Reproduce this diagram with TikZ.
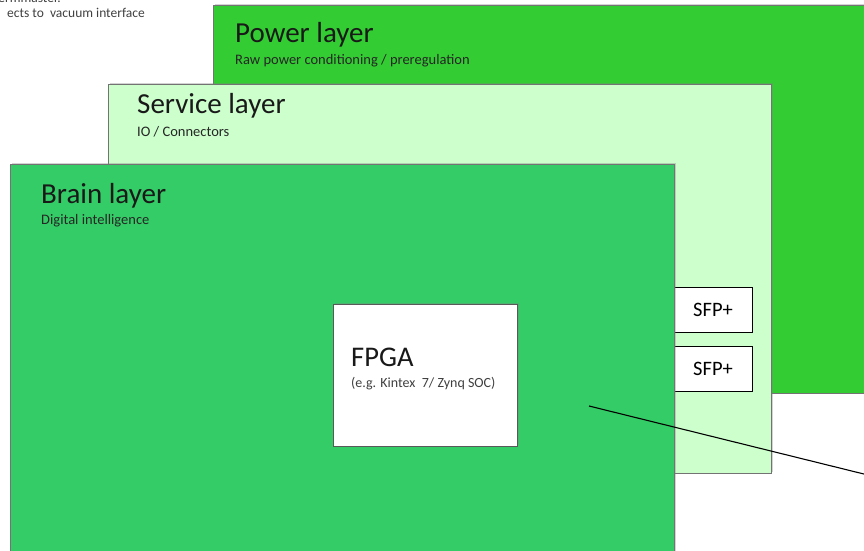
\documentclass[tikz,border=0pt]{standalone}
\usepackage{fontspec}
\setmainfont{Carlito}
\usetikzlibrary{shadows}
\definecolor{powergreen}{HTML}{33CC33}
\definecolor{servicegreen}{HTML}{CCFFCC}
\definecolor{braingreen}{HTML}{33CC66}
\tikzset{
  layer/.style={draw=black!55, line width=0.8pt, anchor=north west, inner sep=0pt,
    drop shadow={shadow xshift=1.2pt, shadow yshift=1.2pt, opacity=0.35}},
  chipbox/.style={draw=black!65, line width=0.8pt, fill=white, anchor=north west, inner sep=0pt,
    drop shadow={shadow xshift=1.2pt, shadow yshift=1.2pt, opacity=0.35}},
  sfpbox/.style={draw=black, line width=1.1pt, fill=white, anchor=north west, inner sep=0pt,
    minimum width=79pt, minimum height=45pt, font=\fontsize{20.5}{24}\selectfont},
  title/.style={anchor=base west, inner sep=0pt, text=black!90, font=\fontsize{29}{34}\selectfont},
  subtitle/.style={anchor=base west, inner sep=0pt, text=black!85, font=\fontsize{14.5}{17}\selectfont},
  note/.style={anchor=base east, inner sep=0pt, text=black!75, font=\fontsize{13.5}{16}\selectfont}
}
\begin{document}
\begin{tikzpicture}[x=1pt,y=-1pt]
\useasboundingbox (0,0) rectangle (864,551);
\clip (0,0) rectangle (864,551);
% top-left note
\node[note] (n1) at (61,2.5) {ermmaster.};
\node[note] (n2) at (145,18) {ects to\ \ vacuum interface};
% layers
\node[layer, fill=powergreen, minimum width=667pt, minimum height=388pt] (power) at (213,5) {};
\node[title] (powert) at (235,43) {Power layer};
\node[subtitle] (powers) at (235,65) {Raw power conditioning / preregulation};
\node[layer, fill=servicegreen, minimum width=663pt, minimum height=389pt] (service) at (108,84) {};
\node[title] (servicet) at (137,113) {Service layer};
\node[subtitle] (services) at (137,136) {IO / Connectors};
\node[sfpbox] (sfp1) at (673,287) {SFP+};
\node[sfpbox] (sfp2) at (673,346) {SFP+};
\node[layer, fill=braingreen, minimum width=664pt, minimum height=420pt] (brain) at (10,164) {};
\node[title] (braint) at (41,203) {Brain layer};
\node[subtitle] (brains) at (41,224) {Digital intelligence};
% FPGA
\node[chipbox, minimum width=184pt, minimum height=142pt] (fpga) at (333,304) {};
\node[anchor=base west, inner sep=0pt, text=black!90, font=\fontsize{28.5}{33}\selectfont] (fpgat) at (351,366) {FPGA};
\node[anchor=base west, inner sep=0pt, text=black!75, font=\fontsize{14}{17}\selectfont] (fpgas) at (351,387) {(e.g. Kintex\ \ 7/ Zynq SOC)};
% pointer line
\coordinate (ls) at (589,406);
\coordinate (le) at (880,478);
\draw[black, line width=1.1pt] (ls) -- (le);
\end{tikzpicture}
\end{document}
